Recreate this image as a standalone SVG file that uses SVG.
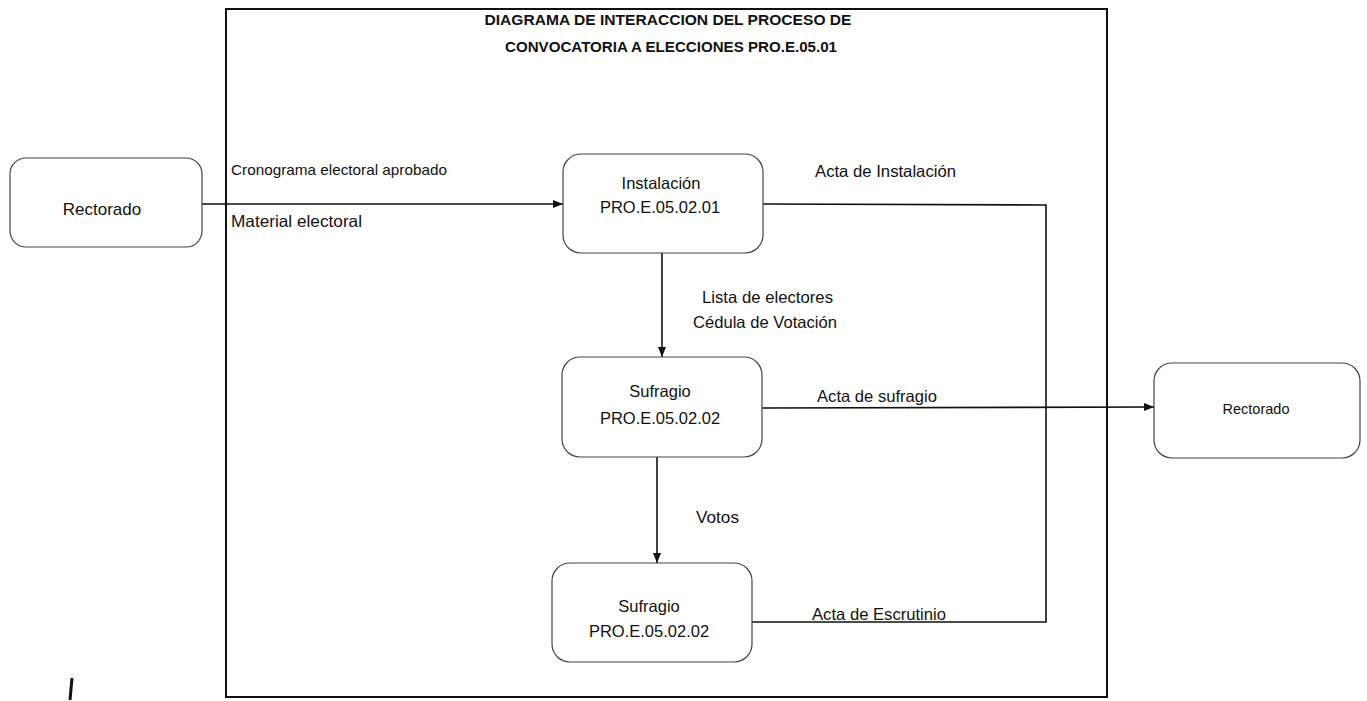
<svg xmlns="http://www.w3.org/2000/svg" width="1367" height="701" viewBox="0 0 1367 701">
<defs>
<marker id="ah" viewBox="0 0 10 10" refX="10" refY="5" markerWidth="10" markerHeight="10" markerUnits="userSpaceOnUse" orient="auto">
<path d="M0,1 L10,5 L0,9 Z" fill="#111"/>
</marker>
<style>
.node{fill:#fff;stroke:#444;stroke-width:1.2}
.t{font-family:"Liberation Sans",Arial,sans-serif;fill:#111;text-anchor:middle;font-size:16.5px}
.l{font-family:"Liberation Sans",Arial,sans-serif;fill:#111;font-size:16.5px}
.c{fill:none;stroke:#111;stroke-width:1.6}
.title{font-family:"Liberation Sans",Arial,sans-serif;font-weight:bold;fill:#111;text-anchor:middle;font-size:14px}
</style>
</defs>
<rect width="1367" height="701" fill="#fff"/>
<rect id="frame" x="226" y="9" width="881" height="688" fill="none" stroke="#111" stroke-width="2"/>
<text class="title" x="668" y="25" textLength="367" lengthAdjust="spacingAndGlyphs">DIAGRAMA DE INTERACCION DEL PROCESO DE</text>
<text class="title" x="671" y="52" textLength="332" lengthAdjust="spacingAndGlyphs">CONVOCATORIA A ELECCIONES  PRO.E.05.01</text>
<path d="M72,678 L70,700" stroke="#111" stroke-width="3" fill="none"/>
<g id="connectors">
<path class="c" d="M202,204 L563,204" marker-end="url(#ah)"/>
<path class="c" d="M763,204 L1046,205 L1046,622 L752,622"/>
<path class="c" d="M662,253 L662,357" marker-end="url(#ah)"/>
<path class="c" d="M762,408 L1154,407" marker-end="url(#ah)"/>
<path class="c" d="M657,457 L657,563" marker-end="url(#ah)"/>
<text class="l" x="231" y="175" style="font-size:15px" textLength="216" lengthAdjust="spacingAndGlyphs">Cronograma electoral aprobado</text>
<text class="l" x="231" y="227" textLength="131" lengthAdjust="spacingAndGlyphs">Material electoral</text>
<text class="l" x="815" y="177" textLength="141" lengthAdjust="spacingAndGlyphs">Acta de Instalación</text>
<text class="l" x="702" y="303" textLength="131" lengthAdjust="spacingAndGlyphs">Lista de electores</text>
<text class="l" x="693" y="328" textLength="144" lengthAdjust="spacingAndGlyphs">Cédula de Votación</text>
<text class="l" x="817" y="402" textLength="120" lengthAdjust="spacingAndGlyphs">Acta de sufragio</text>
<text class="l" x="696" y="523" textLength="43" lengthAdjust="spacingAndGlyphs">Votos</text>
<text class="l" x="812" y="620" textLength="134" lengthAdjust="spacingAndGlyphs">Acta de Escrutinio</text>
</g>
<g id="rectorado1">
<rect class="node" x="10" y="158" width="192" height="89" rx="16"/>
<text class="t" x="102" y="215" style="font-size:17px">Rectorado</text>
</g>
<g id="instalacion">
<rect class="node" x="563" y="154" width="200" height="99" rx="18"/>
<text class="t" x="661" y="189">Instalación</text>
<text class="t" x="660" y="213">PRO.E.05.02.01</text>
</g>
<g id="sufragio1">
<rect class="node" x="562" y="357" width="200" height="100" rx="18"/>
<text class="t" x="660" y="397">Sufragio</text>
<text class="t" x="660" y="424">PRO.E.05.02.02</text>
</g>
<g id="sufragio2">
<rect class="node" x="552" y="563" width="200" height="99" rx="18"/>
<text class="t" x="649" y="612">Sufragio</text>
<text class="t" x="649" y="637">PRO.E.05.02.02</text>
</g>
<g id="rectorado2">
<rect class="node" x="1154" y="363" width="206" height="95" rx="18"/>
<text class="t" x="1256" y="414" style="font-size:14.5px">Rectorado</text>
</g>
</svg>
